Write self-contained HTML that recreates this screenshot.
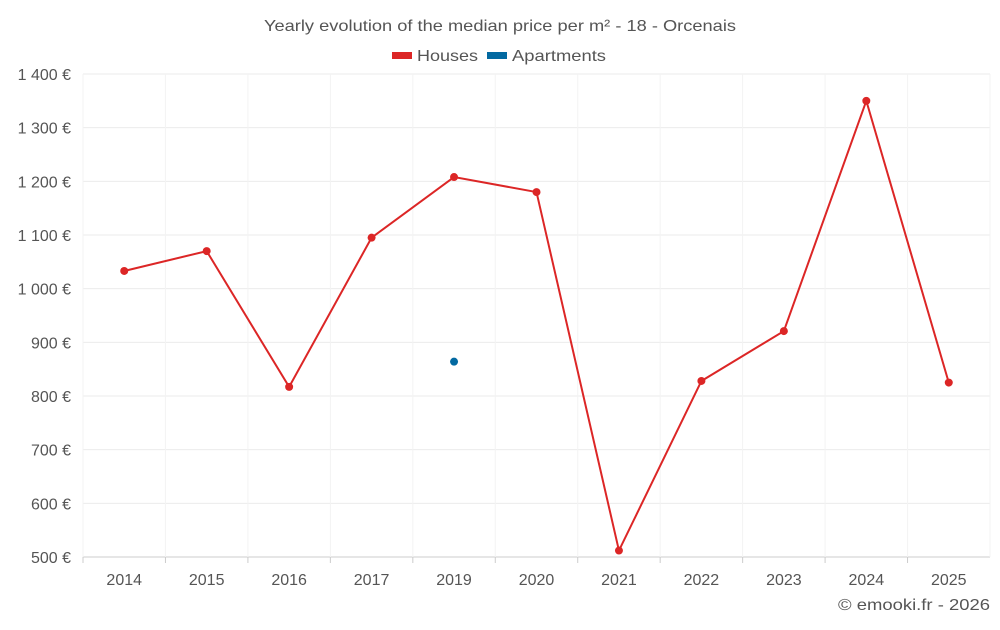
<!DOCTYPE html>
<html><head><meta charset="utf-8"><style>
body{margin:0;background:#fff;font-family:"Liberation Sans",sans-serif;}
svg text{font-family:"Liberation Sans",sans-serif;fill:#555;}
</style></head><body>
<svg id="chart" width="1000" height="625" xmlns="http://www.w3.org/2000/svg">
<text x="264" y="31" font-size="16" textLength="472" lengthAdjust="spacingAndGlyphs">Yearly evolution of the median price per m² - 18 - Orcenais</text>
<g><rect x="392" y="52" width="20" height="7" fill="#dc2626"/><text x="417" y="61" font-size="16" textLength="61" lengthAdjust="spacingAndGlyphs">Houses</text></g>
<g><rect x="487" y="52" width="20" height="7" fill="#0369a1"/><text x="512" y="61" font-size="16" textLength="94" lengthAdjust="spacingAndGlyphs">Apartments</text></g>
<g id="grid"></g><g id="marks"></g>
<text x="838" y="610" font-size="16" textLength="152" lengthAdjust="spacingAndGlyphs">© emooki.fr - 2026</text>
</svg>
<script>
const categories=["2014","2015","2016","2017","2019","2020","2021","2022","2023","2024","2025"];
const houses=[1033,1070,817,1095,1208,1180,512,828,921,1350,825];
const apartments=[null,null,null,null,864,null,null,null,null,null,null];
const yTicks=[500,600,700,800,900,1000,1100,1200,1300,1400];
const NS="http://www.w3.org/2000/svg";
const L=83,R=990,T=74,B=557,ymin=500,ymax=1400;
const bw=(R-L)/categories.length;
const x=i=>L+bw*(i+0.5);
const y=v=>B-(v-ymin)/(ymax-ymin)*(B-T);
const g=document.getElementById('grid'),m=document.getElementById('marks');
function mk(p,tag,a){const e=document.createElementNS(NS,tag);for(const k in a)e.setAttribute(k,a[k]);p.appendChild(e);return e;}
yTicks.forEach(t=>{
 const l=mk(g,'line',{x1:L,x2:R,y1:y(t),y2:y(t),stroke:t===ymin?'#ccc':'#ebebeb'});
 
 
 const tx=mk(g,'text',{x:71,y:y(t)+6,'text-anchor':'end','font-size':16});
 tx.textContent=t.toString().replace(/\B(?=(\d{3})+(?!\d))/g,' ')+' €';
 
 
});
for(let i=0;i<=categories.length;i++){
 const l=mk(g,'line',{x1:L+bw*i,x2:L+bw*i,y1:T,y2:B,stroke:'#f3f3f3'});
 
 
}
categories.forEach((c,i)=>{
 const tk=mk(g,'line',{x1:L+bw*i,x2:L+bw*i,y1:B,y2:B+6,stroke:'#ccc'});
 
 
 const tx=mk(g,'text',{x:x(i),y:585,'text-anchor':'middle','font-size':16});
 tx.textContent=c;
 
 
});
const pts=houses.map((v,i)=>v==null?null:x(i)+','+y(v)).filter(Boolean).join(' ');
const pl=mk(m,'polyline',{points:pts,fill:'none',stroke:'#dc2626','stroke-width':2});


houses.forEach((v,i)=>{if(v==null)return;
 const c=mk(m,'circle',{cx:x(i),cy:y(v),r:4,fill:'#dc2626'});
 
 
});
apartments.forEach((v,i)=>{if(v==null)return;
 const c=mk(m,'circle',{cx:x(i),cy:y(v),r:4,fill:'#0369a1'});
 
 
});
</script>
</body></html>
